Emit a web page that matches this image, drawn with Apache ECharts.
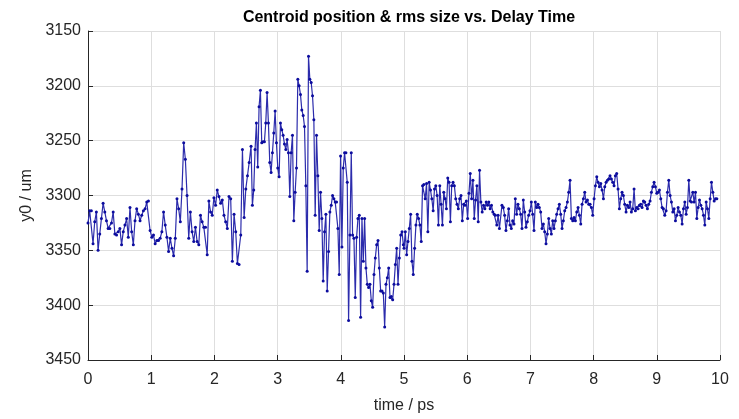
<!DOCTYPE html>
<html>
<head>
<meta charset="utf-8">
<script src="https://cdn.jsdelivr.net/npm/echarts@6/dist/echarts.min.js"></script>
<style>
  html, body { margin: 0; padding: 0; background: #fff; }
  #chart { width: 739px; height: 419px; }
</style>
</head>
<body>
<div id="chart"></div>
<script>
// y0 (um), in pieces; each piece spans [start, end] in ps
var spanA = [0, 2.55];
var y0SegA = [
  3325,3314,3314,3344,3324,3315,3350,3335,3321,3307,3315,3323,3330,3330,3325,3315,3335,3336,3333,3330,
  3345,3333,3327,3321,3338,3311,3333,3345,3323,3312,3317,3323,3318,3314,3312,3306,3305,
  3332,3338,3336,3344,3341,3341,3339,3333,3315,3327,3338,3351,3339,3348,3355,3339,3303,3312,3324,3294,
  3252,3267,3300,3339,3315,3333,3342,3329,3342,3345,3318,3324,3329,3329,3354,3305,3315,3318,3302,
  3309,3295,3301,3307,3304,3318,3324,3330,3301,3303,3360,3317,3333,3362,3363,3336,3258,3320,3294,3282,3270
];

var spanB = [2.58, 4.99];
var y0SegB = [
  3255,3309,3295,3258,3234,3274,3219,3204,3252,3251,3251,3234,3206,3234,3270,3279,3261,3243,3223,3252,
  3275,3283,3234,3240,3245,3253,3258,3249,3261,3301,3261,3245,3323,3297,3275,3194,3200,3208,3222,3227,
  3237,3291,3369,3173,3194,3197,3209,3231,3318,3245,3282,3332,3297,3321,3378,3333,3317,3387,3351,3315,
  3309,3300,3303,3306,3306,3330,3372,3264,3347,3275,3261,3261,3288,3414,3336,3261,3336,3339,3393,3338,
  3321,3318,3411,3321,3360,3321,3366,3381,3384,3381,3396,3402,3372,3357,3345,3341,3366,3387,3387,3389,
  3420,3381,3375,3366,3393,3392,3395,3381,3363,3348,3381,3357,3336,3333,3345
];

var spanC = [5.0, 6.51];
var y0SegC = [
  3348,3333,3354,3342,3330,3317,3360,3372,3348,3327,3317,3321,3327,3342,3291,3290,3303,3289,3333,3288,
  3295,3303,3314,3294,3291,3300,3327,3291,3308,3327,3297,3303,3312,3284,3288,3324,3291,3288,3291,3303,
  3308,3312,3303,3300,3323,3308,3309,3305,
  3321,3298,3280,3303,3286,3321,3304,3291,3324,3277,3306,3315,3309,3312,3306,3309,3306,3312,3309,3315,
  3317,3318,3327,3318,3330
];

var spanD = [6.55, 8.24];
var y0SegD = [
  3309,3311,3318,3332,3323,3312,3327,3330,3323,3326,3303,3317,3308,3312,3317,3330,3304,3315,3329,3324,
  3318,3314,3306,3317,3332,3306,3311,3308,3311,3315,3330,3326,3333,3344,3335,3321,3330,3335,3323,3330,
  3323,3317,3312,3308,3317,3330,3323,3314,3311,3306,3297,3286,3321,3323,3320,3323,3315,3311,3318,3326,
  3308,3303,3297,3306,3304,3308,3308,3311,3318,3303,3291,3283,3288,3292,3289,3295,3303,3292,3288,3286,
  3285
];

var spanE = [8.26, 9.95];
var y0SegE = [
  3282,3285,3288,3291,3282,3280,3294,3312,3303,3297,3300,3308,3315,3309,3311,3306,3315,3312,3294,3314,
  3311,3312,3309,3308,3311,3305,3306,3309,3312,3308,3305,3297,3292,3288,3292,3298,3297,3295,3303,3311,
  3312,3318,3314,3297,3286,3300,3306,3315,3312,3323,3318,3311,3315,3318,3326,3312,3306,3317,3311,3286,
  3305,3306,3297,3306,3297,3321,3311,3304,3309,3312,3318,3327,3306,3312,3321,3303,3288,3297,3305,3303,
  3303
];

var xTicks = [0, 1, 2, 3, 4, 5, 6, 7, 8, 9, 10];
var yTicks = [3150, 3200, 3250, 3300, 3350, 3400, 3450];

// spread each piece evenly over its time span
function piece(span, vals) {
  var out = [];
  for (var i = 0; i < vals.length; i++) {
    var t = span[0] + (span[1] - span[0]) * i / (vals.length - 1);
    out.push([t, vals[i]]);
  }
  return out;
}
var points = [].concat(
  piece(spanA, y0SegA), piece(spanB, y0SegB), piece(spanC, y0SegC),
  piece(spanD, y0SegD), piece(spanE, y0SegE)
);

var txt = '#262626';
var font = '"Liberation Sans", Arial, Helvetica, sans-serif';

var myChart = echarts.init(document.getElementById('chart'));
var option = {
  animation: false,
  backgroundColor: '#fff',
  title: {
    text: 'Centroid position & rms size vs. Delay Time',
    left: 404,
    top: 5,
    textAlign: 'center',
    textStyle: { color: '#000', fontSize: 16, fontWeight: 'bold', fontFamily: font }
  },
  grid: { left: 88, right: 19, top: 31, bottom: 56 },
  xAxis: {
    type: 'value',
    min: xTicks[0],
    max: xTicks[xTicks.length - 1],
    interval: 1,
    name: 'time / ps',
    nameLocation: 'middle',
    nameGap: 38,
    nameTextStyle: { color: txt, fontSize: 16, fontFamily: font },
    axisLine: { show: true, lineStyle: { color: txt, width: 1 } },
    axisTick: { show: true, inside: true, length: 5, lineStyle: { color: txt } },
    axisLabel: { color: txt, fontSize: 16, fontFamily: font, margin: 12 },
    splitLine: { show: true, lineStyle: { color: '#dedede', width: 1 } }
  },
  yAxis: {
    type: 'value',
    inverse: true,
    min: yTicks[0],
    max: yTicks[yTicks.length - 1],
    interval: 50,
    name: 'y0 / um',
    nameLocation: 'middle',
    nameGap: 50,
    nameTextStyle: { color: txt, fontSize: 16, fontFamily: font },
    axisLine: { show: true, lineStyle: { color: txt, width: 1 } },
    axisTick: { show: true, inside: true, length: 5, lineStyle: { color: txt } },
    axisLabel: {
      color: txt, fontSize: 16, fontFamily: font, margin: 7,
      formatter: function (v) { return String(v); }
    },
    splitLine: { show: true, lineStyle: { color: '#dedede', width: 1 } }
  },
  series: [{
    name: 'y0',
    type: 'line',
    data: points,
    showSymbol: true,
    showAllSymbol: true,
    symbol: 'circle',
    symbolSize: 3,
    itemStyle: { color: '#0c0c9e' },
    lineStyle: { color: '#2c2cac', width: 1.2 },
    emphasis: { disabled: true }
  }]
};
myChart.setOption(option);
</script>
</body>
</html>
